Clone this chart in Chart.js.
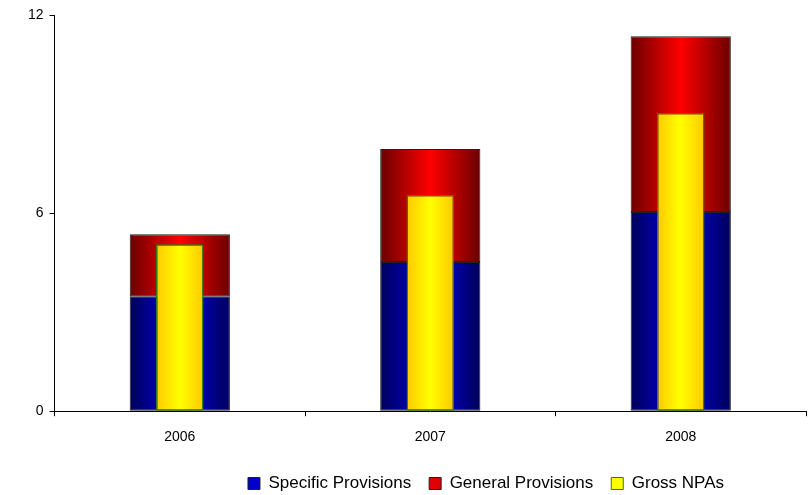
<!DOCTYPE html>
<html>
<head>
<meta charset="utf-8">
<script src="https://cdn.jsdelivr.net/npm/chart.js@4.4.1/dist/chart.umd.min.js"></script>
<style>
  html, body { margin: 0; padding: 0; background: #fff; }
  #wrap { width: 808px; height: 495px; }
</style>
</head>
<body>
<div id="wrap"><canvas id="npaChart" width="808" height="495"></canvas></div>
<script>
const years = ['2006', '2007', '2008'];
const specificProvisions = [3.48, 4.52, 6.03];
const generalProvisions = [1.88, 3.42, 5.33];
const grossNPAs = [5.06, 6.55, 9.03];
const yTicks = [0, 6, 12];

// horizontal gradient across each bar: dark edges, bright middle
function barGradient(ctx, pct, edge, mid) {
    const chart = ctx.chart;
    const scale = chart.scales.x;
    if (!scale || ctx.dataIndex === undefined) return mid;
    const cx = scale.getPixelForValue(ctx.dataIndex);
    const w = (scale.width / years.length) * pct;
    const g = chart.ctx.createLinearGradient(cx - w / 2, 0, cx + w / 2, 0);
    g.addColorStop(0, edge);
    g.addColorStop(0.5, mid);
    g.addColorStop(1, edge);
    return g;
}

// move the legend right like the original
const legendShift = {
    id: 'legendShift',
    afterLayout(chart) {
        const lg = chart.legend;
        lg.left += 72;
        lg.right += 72;
        lg.top -= 2;
        lg.bottom -= 2;
    }
};

const ctx = document.getElementById('npaChart').getContext('2d');
const npaChart = new Chart(ctx, {
    type: 'bar',
    data: {
        labels: years,
        datasets: [
            {
                label: 'Specific Provisions',
                data: specificProvisions,
                backgroundColor: c => barGradient(c, 0.4, '#00005a', '#0000e8'),
                borderColor: '#222',
                borderWidth: 1,
                borderSkipped: false,
                stack: 'prov',
                barPercentage: 0.4,
                categoryPercentage: 1,
                grouped: false,
                order: 2
            },
            {
                label: 'General Provisions',
                data: generalProvisions,
                backgroundColor: c => barGradient(c, 0.4, '#6a0000', '#ff0000'),
                borderColor: '#222',
                borderWidth: 1,
                borderSkipped: false,
                stack: 'prov',
                barPercentage: 0.4,
                categoryPercentage: 1,
                grouped: false,
                order: 2
            },
            {
                label: 'Gross NPAs',
                data: grossNPAs,
                backgroundColor: c => barGradient(c, 0.19, '#ffc800', '#ffff00'),
                borderColor: '#2e7d14',
                borderWidth: 1.5,
                borderSkipped: false,
                stack: 'npa',
                barPercentage: 0.19,
                categoryPercentage: 1,
                grouped: false,
                order: 1
            }
        ]
    },
    options: {
        responsive: false,
        animation: false,
        layout: { padding: { top: 15, right: 2, left: 22, bottom: -9 } },
        scales: {
            x: {
                offset: true,
                grid: { offset: true, drawOnChartArea: false, tickLength: 5, color: '#000' },
                border: { color: '#000', width: 1 },
                ticks: { color: '#000', font: { family: 'Liberation Sans, Arial', size: 14 }, padding: 13 }
            },
            y: {
                stacked: true,
                min: 0,
                max: 12,
                afterBuildTicks: axis => { axis.ticks = yTicks.map(v => ({ value: v })); },
                grid: { drawOnChartArea: false, tickLength: 5, color: '#000' },
                border: { color: '#000', width: 1 },
                ticks: { color: '#000', font: { family: 'Liberation Sans, Arial', size: 14 }, padding: 6 }
            }
        },
        plugins: {
            legend: {
                position: 'bottom',
                labels: {
                    color: '#000',
                    boxWidth: 12,
                    boxHeight: 12,
                    padding: 18,
                    font: { family: 'Liberation Sans, Arial', size: 17 },
                    generateLabels: chart => chart.data.datasets.map((ds, i) => ({
                        text: ds.label,
                        fillStyle: ['#0000c8', '#e00000', '#ffff00'][i],
                        strokeStyle: ['#222', '#222', '#2e7d14'][i],
                        lineWidth: 1,
                        datasetIndex: i
                    }))
                }
            },
            tooltip: { enabled: false }
        }
    },
    plugins: [legendShift]
});
</script>
</body>
</html>
